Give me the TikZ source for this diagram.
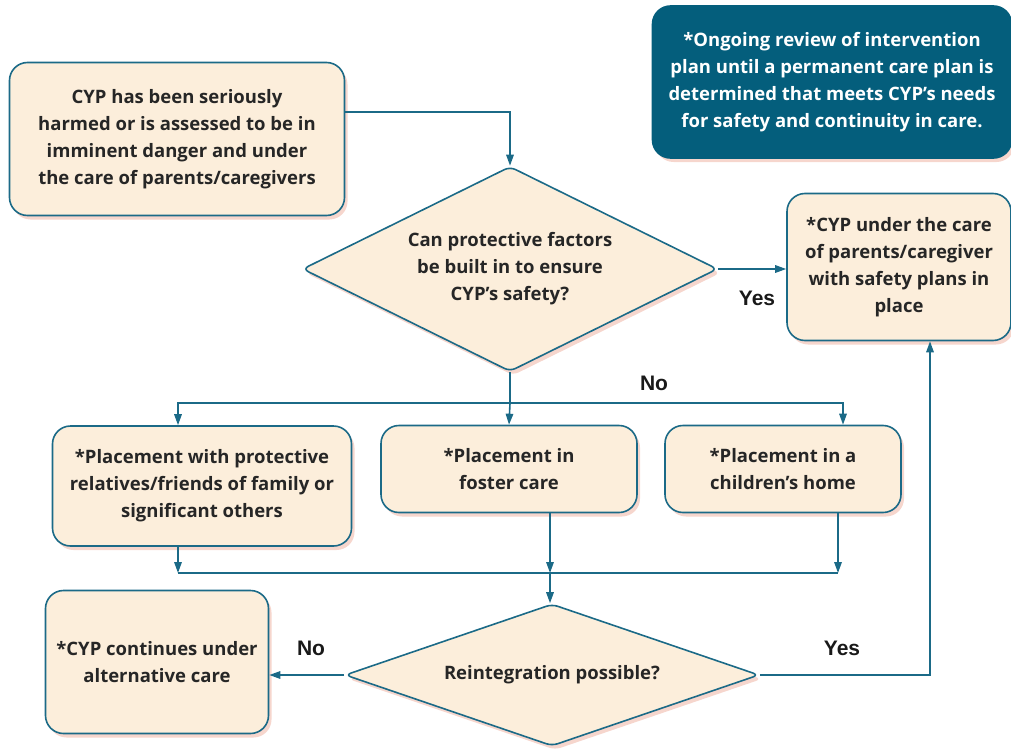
\documentclass[tikz,border=0pt]{standalone}
\usepackage{fontspec}
\setmainfont{Open Sans}
\newfontfamily\lblfont{Liberation Sans}
\usetikzlibrary{arrows.meta,positioning,shapes.geometric,calc,shadows}
\definecolor{teal}{HTML}{1B6A87}
\definecolor{cream}{HTML}{FCEEDB}
\definecolor{notefill}{HTML}{045E7C}
\definecolor{glow}{HTML}{F2C4B8}

\begin{document}
\begin{tikzpicture}[
  x=1pt, y=-1pt,
  box/.style={draw=teal, line width=1.6pt, rounded corners=18pt, fill=cream, align=center,
    font=\fontsize{18.5}{27}\selectfont\bfseries, text=black!85,
    drop shadow={fill=glow, opacity=0.7, shadow xshift=3pt, shadow yshift=-4pt}},
  decision/.style={box, diamond, rounded corners=6pt, inner sep=0pt},
  notebox/.style={box, fill=notefill, draw=notefill, text=white},
  lbl/.style={font=\lblfont\fontsize{21}{22}\selectfont\bfseries, text=black!90},
  arr/.style={-{Triangle[length=11pt, width=7.5pt]}, draw=teal, line width=1.6pt},
  link/.style={draw=teal, line width=1.6pt}
]
  \useasboundingbox (0,0) rectangle (1011,749);

  \node[box, minimum width=335pt, minimum height=153pt] (start) at (177,139)
    {CYP has been seriously\\harmed or is assessed to be in\\imminent danger and under\\the care of parents/caregivers};
  \node[notebox, minimum width=359pt, minimum height=152pt] (note) at (832,82)
    {*Ongoing review of intervention\\plan until a permanent care plan is\\determined that meets CYP's needs\\for safety and continuity in care.};
  \node[decision, aspect=2, minimum width=415pt, minimum height=205pt] (protect) at (510,269)
    {Can protective factors\\be built in to ensure\\CYP's safety?};
  \node[box, minimum width=224pt, minimum height=147pt] (safe) at (899,267)
    {*CYP under the care\\of parents/caregiver\\with safety plans in\\place};

  \node[box, minimum width=299pt, minimum height=120pt] (relatives) at (202,486)
    {*Placement with protective\\relatives/friends of family or\\significant others};
  \node[box, minimum width=256pt, minimum height=87pt] (foster) at (509,469)
    {*Placement in\\foster care};
  \node[box, minimum width=236pt, minimum height=87pt] (home) at (783,469)
    {*Placement in a\\children's home};

  \node[decision, aspect=2.9, minimum width=414pt, minimum height=142pt] (reint) at (552,675)
    {Reintegration possible?};
  \node[box, minimum width=223pt, minimum height=143pt] (alt) at (157,662)
    {*CYP continues under\\alternative care};

  \coordinate (split) at (510,403);
  \coordinate (merge) at (550,573);

  \draw[arr] ([yshift=27pt]start.east) -| (protect.north);
  \draw[arr] (protect.east) -- (protect.east -| safe.west);
  \draw[link] (protect.south) -- (split);
  \draw[arr] (split) -| ([xshift=-24pt]relatives.north);
  \draw[arr] (split) -- (foster.north);
  \draw[arr] (split) -| ([xshift=60pt]home.north);

  \draw[arr] ([xshift=-24pt]relatives.south) -- ([xshift=-24pt]relatives.south |- merge);
  \draw[arr] ([xshift=41pt]foster.south) -- (merge);
  \draw[arr] ([xshift=55pt]home.south) -- ([xshift=55pt]home.south |- merge);
  \draw[link] ([xshift=-24pt]relatives.south |- merge) -- ([xshift=55pt]home.south |- merge);
  \draw[arr] (merge) -- (merge |- reint.north);

  \draw[arr] (reint.west) -- (reint.west -| alt.east);
  \draw[arr] (reint.east) -| ([xshift=31pt]safe.south);

  % branch labels
  \node[lbl] (yes1) at (757,298) {Yes};
  \node[lbl] (no1) at (654,383) {No};
  \node[lbl] (no2) at (311,648) {No};
  \node[lbl] (yes2) at (842,648) {Yes};
\end{tikzpicture}
\end{document}
